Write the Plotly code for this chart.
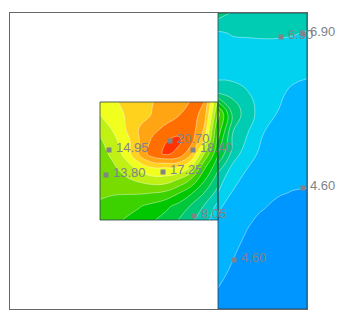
import plotly.graph_objects as go

# grid positions
inner_x = [100, 113, 126, 139, 152, 165, 178, 191, 204, 218]
inner_y = [102, 115, 128, 141, 154, 167, 180, 193, 206, 220]
inner_z = [
    [15.4, 15.9, 16.4, 16.8, 17.2, 17.6, 18.0, 18.45, 18.45, 13.5],
    [14.95, 15.5, 16.2, 16.8, 17.3, 17.8, 18.3, 19.0, 17.9, 12.5],
    [14.3, 15.1, 16.15, 17.25, 17.95, 18.6, 19.2, 19.1, 17.2, 11.5],
    [13.6, 14.6, 15.6, 17.2, 18.6, 19.5, 19.75, 18.9, 16.0, 11.0],
    [13.3, 14.1, 15.4, 17.3, 19.0, 19.7, 19.3, 17.4, 13.8, 10.5],
    [13.2, 13.6, 14.4, 15.4, 16.2, 16.2, 16.2, 14.9, 11.8, 9.5],
    [13.0, 13.2, 13.6, 14.0, 14.4, 14.4, 13.7, 12.5, 10.5, 8.5],
    [12.8, 12.75, 12.75, 12.75, 12.65, 12.4, 11.6, 10.5, 9.2, 7.6],
    [12.5, 12.2, 11.9, 11.6, 11.2, 10.7, 10.0, 9.1, 8.0, 6.6],
    [12.1, 11.8, 11.4, 11.0, 10.5, 9.9, 9.2, 8.3, 7.4, 6.1],
]

right_x = [218, 233, 248, 263, 278, 293, 307]
right_y = [13, 33, 53, 73, 93, 113, 133, 153, 173, 193, 213, 233, 253, 273, 293, 309]
right_z = [
    [8.6, 7.9, 7.6, 7.5, 7.5, 7.6, 7.7],
    [6.75, 7.0, 7.05, 7.1, 7.1, 7.0, 6.8],
    [6.35, 6.4, 6.4, 6.4, 6.35, 6.3, 6.2],
    [6.3, 6.3, 6.25, 6.15, 6.05, 5.95, 5.85],
    [8.0, 7.7, 6.95, 6.35, 5.9, 5.6, 5.5],
    [13.0, 8.8, 7.4, 6.3, 5.72, 5.35, 5.25],
    [12.0, 8.0, 6.9, 5.77, 5.45, 5.15, 5.05],
    [10.5, 7.6, 6.15, 5.5, 5.2, 4.95, 4.85],
    [8.0, 6.2, 5.6, 5.25, 5.0, 4.8, 4.7],
    [6.9, 5.65, 5.15, 4.9, 4.65, 4.57, 4.57],
    [5.75, 5.05, 4.75, 4.55, 4.4, 4.3, 4.25],
    [5.3, 4.85, 4.55, 4.35, 4.2, 4.1, 4.05],
    [4.95, 4.65, 4.4, 4.2, 4.1, 4.0, 3.95],
    [4.75, 4.5, 4.3, 4.1, 4.0, 3.95, 3.9],
    [4.55, 4.35, 4.2, 4.05, 3.95, 3.9, 3.85],
    [4.4, 4.25, 4.1, 4.0, 3.9, 3.85, 3.8],
]

point_x = [281, 303, 303, 234, 109, 106, 170, 193, 163, 194]
point_y = [37, 34, 188, 260, 150, 175, 141, 150, 172, 216]
point_labels = ["6.90", "6.90", "4.60", "4.60", "14.95", "13.80", "20.70", "18.40", "17.25", "8.05"]

band_colors = [
    "#0096ff", "#00b4ff", "#00d2f0", "#00ccb4", "#00c878", "#00c83c", "#00c800",
    "#3cd200", "#78dc00", "#c0f014", "#f0ff1e", "#ffd21e", "#ffa514", "#ff6e00", "#ff3200",
]
colorscale = [[i / (len(band_colors) - 1), c] for i, c in enumerate(band_colors)]
contours = dict(start=4.6, end=19.55, size=1.15, coloring="fill")
contour_line = dict(color="rgba(255,255,255,0.4)", width=1, smoothing=1.3)

fig = go.Figure()
fig.add_trace(go.Contour(x=inner_x, y=inner_y, z=inner_z, colorscale=colorscale,
                         contours=contours, line=contour_line, showscale=False))
fig.add_trace(go.Contour(x=right_x, y=right_y, z=right_z, colorscale=colorscale,
                         contours=contours, line=contour_line, showscale=False))
fig.add_trace(go.Scatter(
    x=point_x, y=point_y, mode="markers", cliponaxis=False,
    marker=dict(symbol="square", size=5, color="#808488"),
))

for px, py, label in zip(point_x, point_y, point_labels):
    fig.add_annotation(x=px, y=py, text=label, showarrow=False, xanchor="left",
                       xshift=5, yshift=3,
                       font=dict(family="Liberation Sans", size=13, color="#808488"))

for x0, y0, x1, y1 in [(100, 102, 218, 220), (218, 13, 307, 309)]:
    fig.add_shape(type="rect", x0=x0, y0=y0, x1=x1, y1=y1,
                  line=dict(color="rgba(40,60,70,0.8)", width=1))

fig.update_xaxes(range=[10, 307], showgrid=False, zeroline=False, showticklabels=False,
                 ticks="", showline=True, mirror=True, linecolor="#666666", linewidth=1)
fig.update_yaxes(range=[309, 13], showgrid=False, zeroline=False, showticklabels=False,
                 ticks="", showline=True, mirror=True, linecolor="#666666", linewidth=1)
# the page adds an 8px body margin, so the figure is 8px smaller on each side
fig.update_layout(width=338, height=312, margin=dict(l=2, r=39, t=5, b=11),
                  paper_bgcolor="white", plot_bgcolor="white", showlegend=False)

fig.write_html("out.html")
